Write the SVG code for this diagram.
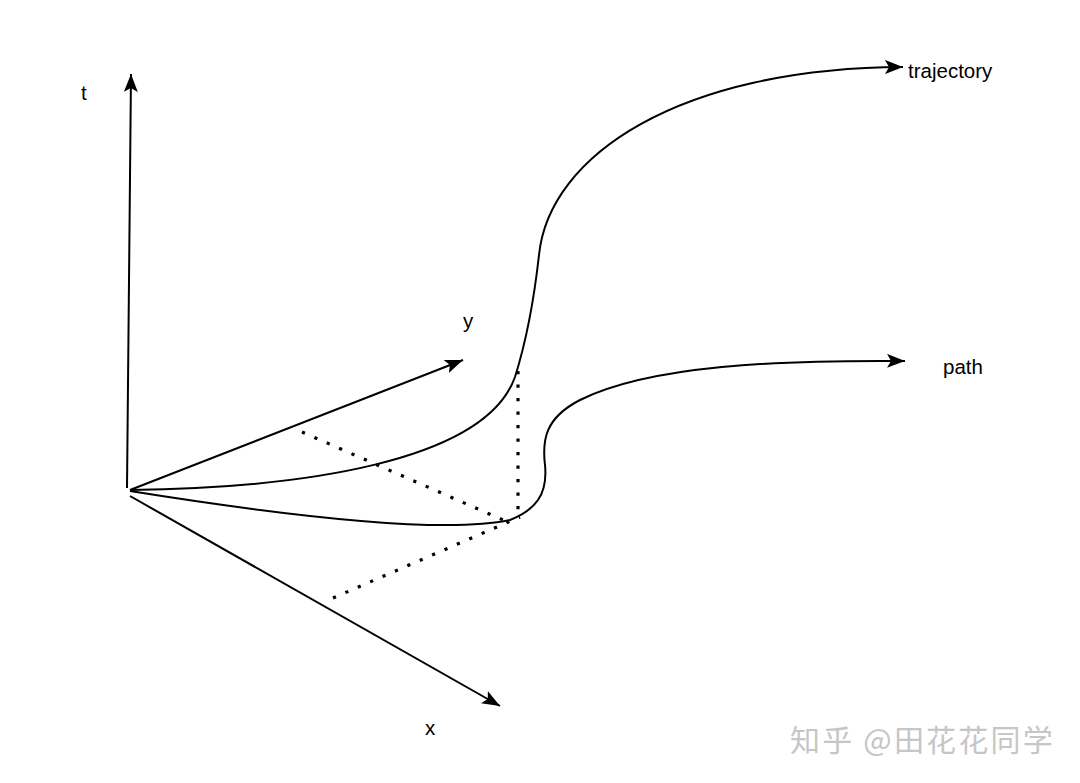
<svg xmlns="http://www.w3.org/2000/svg" width="1080" height="783" viewBox="0 0 1080 783">
<style>
.ax{fill:none;stroke:#000;stroke-width:2;marker-end:url(#arr)}
.cv{fill:none;stroke:#000;stroke-width:2;marker-end:url(#arr)}
.dot{fill:none;stroke:#000;stroke-width:3.2;stroke-dasharray:3.2 10.3}
.lbl{font-family:"Liberation Sans",Arial,sans-serif;font-size:20.5px;fill:#000}
.wm{font-family:"Noto Sans CJK SC","Liberation Sans",sans-serif;font-size:30px;fill:#c6c6c6;letter-spacing:2.2px}
</style>
<defs>
<marker id="arr" markerUnits="userSpaceOnUse" markerWidth="20" markerHeight="14" viewBox="0 0 20 14" refX="18" refY="7" orient="auto">
<path d="M0,0 L18,7 L0,14 L4,7 Z" fill="#000"/>
</marker>
</defs>
<rect width="1080" height="783" fill="#fff"/>
<g id="connectors">
<path id="t-axis" class="ax" d="M127,488 L131,74"/>
<path id="y-axis" class="ax" d="M130,490 L463,360"/>
<path id="x-axis" class="ax" d="M130,496 L500,706"/>
<path id="trajectory-curve" class="cv" d="M130,490 C300,488 485,462 515,377 C526,342 534,300 539,255 C549,155 680,68 903,67"/>
<path id="path-curve" class="cv" d="M130,491 C280,515 440,535 510,520 C535,510 548,495 545,465 C542,440 545,418 580,400 C650,365 780,360 905,361"/>
<path class="dot" d="M302,432 L510,523"/>
<path class="dot" d="M333,598 L520,517"/>
<path class="dot" d="M518,371 L518,518"/>
</g>
<g id="label-t"><text class="lbl" x="81" y="100">t</text></g>
<g id="label-y"><text class="lbl" x="463" y="328">y</text></g>
<g id="label-x"><text class="lbl" x="425" y="735">x</text></g>
<g id="label-trajectory"><text class="lbl" x="908" y="78">trajectory</text></g>
<g id="label-path"><text class="lbl" x="943" y="374">path</text></g>
<g id="watermark"><text class="wm" x="790" y="751">知乎 @田花花同学</text></g>
</svg>
